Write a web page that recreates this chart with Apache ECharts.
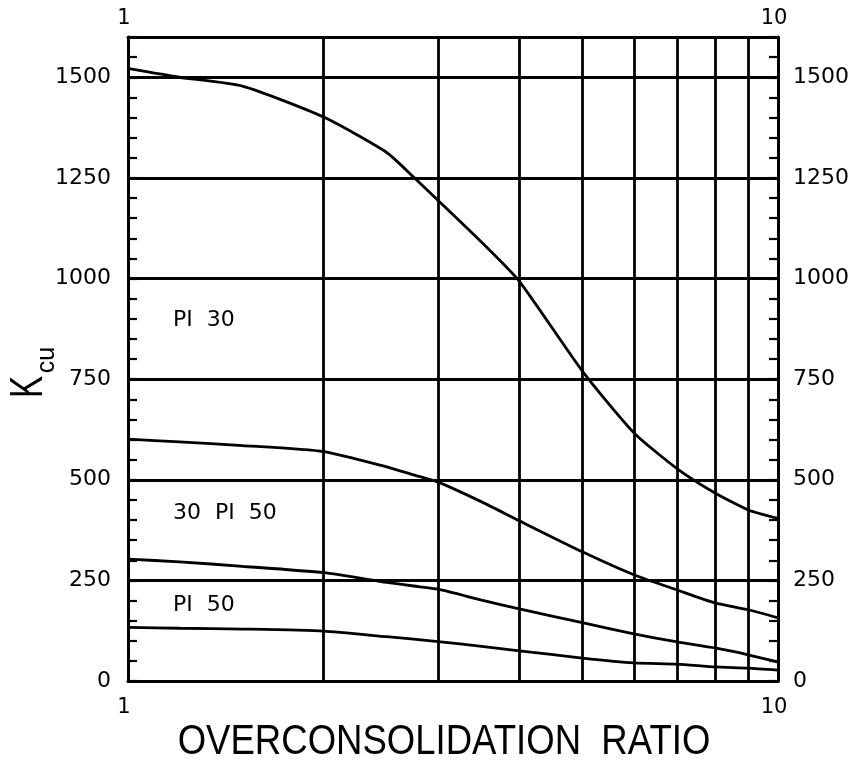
<!DOCTYPE html>
<html>
<head>
<meta charset="utf-8">
<style>
  html, body { margin: 0; padding: 0; background: #fff; }
  #chart { width: 855px; height: 766px; }
</style>
<script src="https://cdn.jsdelivr.net/npm/echarts@6/dist/echarts.min.js"></script>
</head>
<body>
<div id="chart"></div>
<script>
// ---- data ----
const ocr = [1, 1.2, 1.5, 2, 2.5, 2.75, 3, 3.5, 4, 5, 6, 7, 8, 9, 10];
const kPI30   = [1522, 1500, 1478, 1401, 1313, 1252, 1194, 1090, 993, 770, 617, 527, 467, 425, 404];
const kPI3050 = [601, 594, 585, 570, 532, 512, 494, 445, 398, 321, 264, 226, 194, 177, 157];
const kPI50a  = [303, 296, 285, 269, 245, 236, 228, 201, 179, 145, 117, 97, 82, 65, 47];
const kPI50b  = [133, 131, 129, 124, 110, 104, 98, 86, 75, 57, 45, 42, 35, 32, 27];
const yLabels = [0, 250, 500, 750, 1000, 1250, 1500];
const xLabels = [1, 10];
const xGrid = [2, 3, 4, 5, 6, 7, 8, 9];
const yGrid = [250, 500, 750, 1000, 1250, 1500];
const regionLabels = ['PI  30', '30  PI  50', 'PI  50'];

const pairs = ys => ocr.map((x, i) => [x, ys[i]]);
const FONT = 'DejaVu Sans';
const lineW = 2.8;

const yAxisCommon = {
  type: 'value', min: 0, max: 1600, interval: 50,
  axisLine: { show: true, onZero: false, lineStyle: { color: '#000', width: 3 } },
  axisTick: { show: true, inside: true, length: 9, lineStyle: { color: '#000', width: 2.2 } },
  splitLine: { show: false },
  axisLabel: {
    color: '#000', fontFamily: FONT, fontSize: 22, margin: 17,
    formatter: v => (yLabels.includes(v) ? String(v) : '')
  }
};
const xAxisCommon = {
  type: 'log', logBase: 10, min: 1, max: 10,
  axisLine: { show: true, onZero: false, lineStyle: { color: '#000', width: 3 } },
  axisTick: { show: false },
  splitLine: { show: false },
  minorTick: { show: false },
  minorSplitLine: { show: false },
  axisLabel: {
    color: '#000', fontFamily: FONT, fontSize: 21, padding: [0, 8, 0, 0],
    formatter: v => (xLabels.includes(Math.round(v)) ? String(Math.round(v)) : '')
  }
};

const lineSeries = (name, ys) => ({
  name, type: 'line', data: pairs(ys), showSymbol: false, symbol: 'none',
  smooth: 0.2, xAxisIndex: 0, yAxisIndex: 0,
  lineStyle: { color: '#000', width: lineW }, silent: true, z: 5
});

const s0 = lineSeries('PI30', kPI30);
s0.markLine = {
  silent: true, symbol: ['none', 'none'], animation: false,
  label: { show: false },
  lineStyle: { color: '#000', width: 2.8, type: 'solid' },
  data: xGrid.map(v => ({ xAxis: v })).concat(yGrid.map(v => ({ yAxis: v })))
};

const textStyle = (txt, size, extra) => Object.assign({
  text: txt, font: size + 'px "' + FONT + '"', fill: '#000',
  textAlign: 'left', textVerticalAlign: 'middle', align: 'left', verticalAlign: 'middle'
}, extra || {});

const option = {
  backgroundColor: '#fff',
  animation: false,
  grid: { left: 128, right: 77, top: 37, bottom: 85, containLabel: false },
  xAxis: [
    Object.assign({}, xAxisCommon, { position: 'bottom', axisLabel: Object.assign({}, xAxisCommon.axisLabel, { margin: 16 }) }),
    Object.assign({}, xAxisCommon, { position: 'top', axisLabel: Object.assign({}, xAxisCommon.axisLabel, { margin: 8 }) })
  ],
  yAxis: [
    Object.assign({}, yAxisCommon, { position: 'left' }),
    Object.assign({}, yAxisCommon, { position: 'right', axisLabel: Object.assign({}, yAxisCommon.axisLabel, { margin: 15 }) })
  ],
  series: [
    s0,
    lineSeries('30PI50', kPI3050),
    lineSeries('PI50a', kPI50a),
    lineSeries('PI50b', kPI50b)
  ],
  graphic: [
    { type: 'text', x: 173, y: 320, style: textStyle(regionLabels[0], 22) },
    { type: 'text', x: 173, y: 513, style: textStyle(regionLabels[1], 22) },
    { type: 'text', x: 173, y: 605, style: textStyle(regionLabels[2], 22) },
    { type: 'text', x: 444, y: 742, scaleX: 0.87,
      style: textStyle('OVERCONSOLIDATION  RATIO', 42, { font: '42px "Liberation Sans"', textAlign: 'center', align: 'center' }) },
    { type: 'text', x: 29, y: 387, rotation: Math.PI / 2, scaleX: 0.72,
      style: textStyle('K', 46, { font: '46px "Liberation Sans"', textAlign: 'center', align: 'center' }) },
    { type: 'text', x: 47, y: 360, rotation: Math.PI / 2,
      style: textStyle('cu', 25, { font: '25px "Liberation Sans"', textAlign: 'center', align: 'center' }) }
  ]
};

const chart = echarts.init(document.getElementById('chart'), null, { renderer: 'canvas' });
chart.setOption(option);
</script>
</body>
</html>
